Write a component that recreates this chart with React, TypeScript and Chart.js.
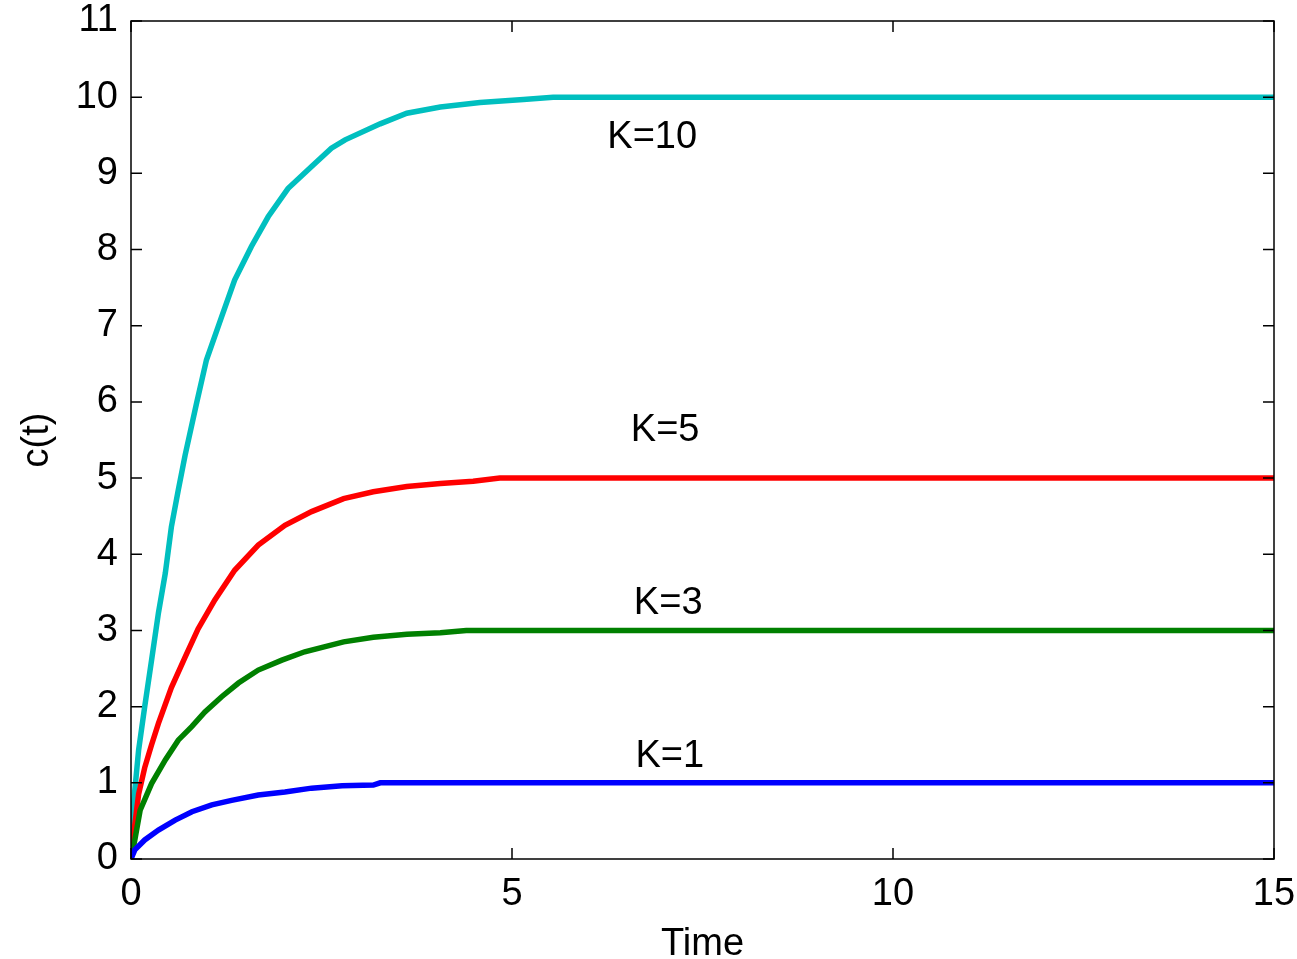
import React, { useEffect, useRef } from "react";
import { Chart, registerables } from "chart.js";

Chart.register(...registerables);

// K = 10
const t10 = [0, 0.02, 0.03, 0.1, 0.18, 0.27, 0.36, 0.45, 0.53, 0.62, 0.71, 0.86, 0.99, 1.19, 1.36, 1.58, 1.8, 2.06, 2.37, 2.63, 2.81, 3.27, 3.62, 4.06, 4.58, 5.15, 5.54, 15];
const c10 = [0, 0.4, 0.69, 1.43, 2.0, 2.61, 3.23, 3.75, 4.36, 4.84, 5.3, 5.98, 6.55, 7.12, 7.6, 8.04, 8.43, 8.8, 9.09, 9.33, 9.44, 9.65, 9.79, 9.87, 9.93, 9.97, 10, 10];
// K = 5
const t5 = [0, 0.05, 0.1, 0.18, 0.27, 0.36, 0.53, 0.71, 0.88, 1.1, 1.36, 1.67, 2.02, 2.37, 2.79, 3.18, 3.62, 4.06, 4.49, 4.84, 15];
const c5 = [0, 0.45, 0.85, 1.2, 1.5, 1.78, 2.25, 2.65, 3.02, 3.4, 3.79, 4.12, 4.38, 4.56, 4.73, 4.82, 4.89, 4.93, 4.96, 5, 5];
// K = 3
const t3 = [0, 0.05, 0.12, 0.27, 0.45, 0.62, 0.8, 0.97, 1.19, 1.41, 1.67, 1.98, 2.28, 2.79, 3.18, 3.62, 4.06, 4.4, 15];
const c3 = [0, 0.25, 0.64, 0.99, 1.3, 1.56, 1.74, 1.93, 2.13, 2.31, 2.48, 2.61, 2.72, 2.85, 2.91, 2.95, 2.97, 3, 3];
// K = 1
const t1 = [0, 0.05, 0.18, 0.36, 0.58, 0.8, 1.06, 1.32, 1.67, 2.02, 2.37, 2.77, 3.18, 3.27, 15];
const c1 = [0, 0.12, 0.25, 0.38, 0.51, 0.62, 0.71, 0.77, 0.84, 0.88, 0.93, 0.96, 0.97, 1, 1];

// curve labels (data coordinates)
const labelText = ["K=10", "K=5", "K=3", "K=1"];
const labelX = [6.84, 7.01, 7.05, 7.07];
const labelY = [9.47, 5.63, 3.36, 1.35];

const xMin = 0, xMax = 15, xStep = 5;
const yMin = 0, yMax = 11, yStep = 1;

const FONT = '"Liberation Sans", Arial, Helvetica, sans-serif';
const FS = 38;

const pts = (t: number[], c: number[]) => t.map((x, i) => ({ x, y: c[i] }));

const framePlugin = {
  id: "frame",
  afterDatasetsDraw(chart: any) {
    const { ctx, chartArea: a, scales } = chart;
    const xs = scales.x, ys = scales.y;
    ctx.save();
    ctx.strokeStyle = "#000";
    ctx.lineWidth = 1.5;
    ctx.strokeRect(a.left, a.top, a.right - a.left, a.bottom - a.top);
    const L = 11;
    ctx.beginPath();
    xs.ticks.forEach((tk: any) => {
      const x = xs.getPixelForValue(tk.value);
      ctx.moveTo(x, a.bottom); ctx.lineTo(x, a.bottom - L);
      ctx.moveTo(x, a.top); ctx.lineTo(x, a.top + L);
    });
    ys.ticks.forEach((tk: any) => {
      const y = ys.getPixelForValue(tk.value);
      ctx.moveTo(a.left, y); ctx.lineTo(a.left + L, y);
      ctx.moveTo(a.right, y); ctx.lineTo(a.right - L, y);
    });
    ctx.stroke();
    ctx.fillStyle = "#000";
    ctx.font = `${FS}px ${FONT}`;
    ctx.textAlign = "center";
    ctx.textBaseline = "middle";
    labelText.forEach((s, i) => {
      ctx.fillText(s, xs.getPixelForValue(labelX[i]), ys.getPixelForValue(labelY[i]));
    });
    ctx.restore();
  },
};

export default function App() {
  const ref = useRef<HTMLCanvasElement | null>(null);
  useEffect(() => {
    if (!ref.current) return;
    const ds = (label: string, t: number[], c: number[], color: string) => ({
      label,
      data: pts(t, c),
      borderColor: color,
      backgroundColor: color,
      borderWidth: 5.5,
      pointRadius: 0,
      tension: 0,
      fill: false,
    });
    const chart = new Chart(ref.current, {
      type: "line",
      data: {
        datasets: [
          ds("K=1", t1, c1, "#0000FF"),
          ds("K=3", t3, c3, "#008000"),
          ds("K=5", t5, c5, "#FF0000"),
          ds("K=10", t10, c10, "#00BFBF"),
        ],
      },
      options: {
        animation: false,
        responsive: false,
        events: [],
        layout: { padding: { left: 0, top: 21, right: 23, bottom: 0 } },
        plugins: { legend: { display: false }, tooltip: { enabled: false } },
        scales: {
          x: {
            type: "linear",
            min: xMin,
            max: xMax,
            grid: { display: false, drawTicks: false },
            border: { display: false },
            ticks: { stepSize: xStep, color: "#000", padding: 13, maxRotation: 0, font: { family: FONT, size: FS } },
            title: { display: true, text: "Time", color: "#000", font: { family: FONT, size: FS, lineHeight: 1 }, padding: { top: 0, bottom: -5 } },
            afterFit: (s: any) => { s.height = 100; s.paddingLeft = 0; s.paddingRight = 0; },
          },
          y: {
            type: "linear",
            min: yMin,
            max: yMax,
            grid: { display: false, drawTicks: false },
            border: { display: false },
            ticks: { stepSize: yStep, color: "#000", padding: 13, font: { family: FONT, size: FS } },
            title: { display: true, text: "c(t)", color: "#000", font: { family: FONT, size: FS, lineHeight: 1 }, padding: { top: 19, bottom: 0 } },
            afterFit: (s: any) => { s.width = 131; s.paddingTop = 0; s.paddingBottom = 0; },
          },
        },
      },
      plugins: [framePlugin],
    });
    return () => chart.destroy();
  }, []);
  return (
    <div style={{ position: "absolute", left: 0, top: 0, width: 1297, height: 959, background: "#fff" }}>
      <canvas ref={ref} width={1297} height={959} style={{ display: "block" }} />
    </div>
  );
}
